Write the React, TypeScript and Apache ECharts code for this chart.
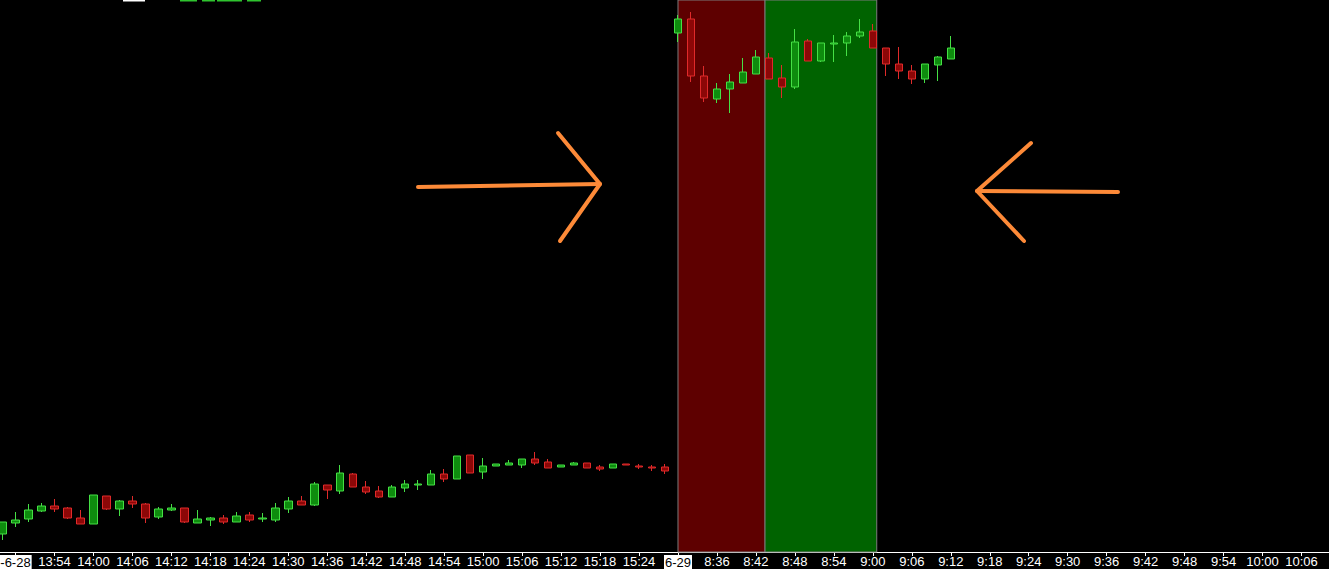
import React, { useEffect, useRef } from "react";
import * as echarts from "echarts";

// 2-minute bars, 6-28 afternoon session then 6-29 morning session
const day1Times = [
	"13:46", "13:48", "13:50", "13:52", "13:54", "13:56", "13:58",
	"14:00", "14:02", "14:04", "14:06", "14:08", "14:10", "14:12", "14:14", "14:16", "14:18",
	"14:20", "14:22", "14:24", "14:26", "14:28", "14:30", "14:32", "14:34", "14:36", "14:38",
	"14:40", "14:42", "14:44", "14:46", "14:48", "14:50", "14:52", "14:54", "14:56", "14:58",
	"15:00", "15:02", "15:04", "15:06", "15:08", "15:10", "15:12", "15:14", "15:16", "15:18",
	"15:20", "15:22", "15:24", "15:26", "15:28",
];
const day2Times = [
	"8:30", "8:32", "8:34", "8:36", "8:38", "8:40", "8:42", "8:44", "8:46", "8:48",
	"8:50", "8:52", "8:54", "8:56", "8:58",
	"9:00", "9:02", "9:04", "9:06", "9:08", "9:10", "9:12", "9:14", "9:16", "9:18",
	"9:20", "9:22", "9:24", "9:26", "9:28", "9:30", "9:32", "9:34", "9:36", "9:38",
	"9:40", "9:42", "9:44", "9:46", "9:48", "9:50", "9:52", "9:54", "9:56", "9:58",
	"10:00", "10:02", "10:04", "10:06", "10:08", "10:10",
];
const dateTags: Record<string, string> = { "13:48": "-6-28", "8:30": "6-29" };

// [open, close, low, high]
const day1Bars = [
	[3009, 3015, 3006, 3015], [3014.5, 3016, 3012.5, 3020], [3016.5, 3021, 3015, 3024],
	[3020.5, 3023, 3020, 3024.5], [3023, 3021.5, 3020, 3026.5], [3022, 3017, 3016.5, 3022.5],
	[3017, 3014, 3014, 3021], [3014, 3028.5, 3014, 3028.5], [3028, 3021.5, 3021, 3028],
	[3021.5, 3025.5, 3018, 3026], [3025.5, 3024, 3022, 3028], [3024, 3017, 3014.5, 3024.5],
	[3017.5, 3021.5, 3016.5, 3022.5], [3021, 3022, 3020.5, 3024], [3022, 3015, 3014.5, 3022],
	[3014.5, 3016.5, 3014.5, 3021], [3016, 3017, 3013, 3017.5], [3017, 3015, 3014, 3018.5],
	[3015, 3018, 3015, 3020], [3018.5, 3016, 3015, 3020], [3016.5, 3017, 3015, 3019.5],
	[3016, 3022, 3015, 3024.5], [3021.5, 3025.5, 3019.5, 3027.5], [3025.5, 3023.5, 3023.5, 3028],
	[3023.5, 3034, 3023, 3035], [3033.5, 3031, 3026.5, 3033.5], [3030.5, 3039.5, 3029, 3043.5],
	[3039, 3032.5, 3032.5, 3039.5], [3032.5, 3030, 3029, 3035.5], [3030.5, 3027.5, 3027, 3033],
	[3027.5, 3032.5, 3027.5, 3033.5], [3032, 3034, 3030, 3036], [3033.5, 3034, 3031, 3036],
	[3033.5, 3039, 3033.5, 3041], [3039, 3036.5, 3035, 3041.5], [3036.5, 3048, 3036.5, 3048],
	[3048.5, 3039.5, 3039.5, 3048.5], [3040, 3043, 3036.5, 3047], [3043, 3044, 3043, 3044],
	[3043.5, 3044.5, 3043.5, 3046], [3043.5, 3046.5, 3042, 3046.5], [3046.5, 3044.5, 3043.5, 3050],
	[3045, 3042, 3042, 3046.5], [3042.5, 3043.5, 3042.5, 3043.5], [3043.5, 3044.5, 3043.5, 3045],
	[3044.5, 3042, 3042, 3044.5], [3042.5, 3041.5, 3040.5, 3043.5], [3042, 3044, 3042, 3044],
	[3044, 3043.5, 3043.5, 3044], [3043, 3042.5, 3041.5, 3044], [3042.5, 3042, 3040.5, 3043.5],
	[3042.5, 3040.5, 3039, 3044],
];
const day2Bars = [
	[3259.5, 3266.5, 3255, 3268.5], [3266.5, 3238, 3235, 3270], [3238, 3227, 3225, 3243],
	[3226.5, 3231.5, 3224.5, 3234.5], [3231.5, 3235, 3219.5, 3239], [3234.5, 3240, 3234.5, 3247],
	[3239, 3247.5, 3239, 3251], [3247, 3236.5, 3236.5, 3249.5], [3237, 3232.5, 3227, 3243.5],
	[3232.5, 3255, 3231.5, 3261.5], [3255.5, 3245.5, 3245.5, 3256.5], [3245.5, 3254.5, 3245, 3254.5],
	[3254, 3254.5, 3245, 3258.5], [3254.5, 3258, 3248, 3260], [3258, 3260, 3257, 3266.5],
	[3260.5, 3252, 3252, 3264], [3252, 3244, 3238, 3252], [3244, 3240.5, 3236.5, 3252.5],
	[3240.5, 3236.5, 3234, 3243.5], [3236.5, 3244, 3234.5, 3244], [3243.5, 3247.5, 3235.5, 3248],
	[3246.5, 3252, 3246.5, 3258],
];

// shaded opening ranges, in bar positions on the time axis
const zoneStart = [52, 58.7];
const zoneEnd = [58.7, 67.3];
const zoneColors = ["#5e0000", "#006300"];

const PRICE_MIN = 3000;
const PRICE_MAX = 3276;
const FONT = "'Liberation Sans Narrow', 'Liberation Sans', sans-serif";
// the first bar is cut in half by the left edge, so the chart starts a little off-page
const SHIFT = 4;

export default function App() {
	const chartRef = useRef<HTMLDivElement>(null);

	useEffect(() => {
		if (!chartRef.current) return;
		const chart = echarts.init(chartRef.current, null, { renderer: "svg" });

		const categories = [...day1Times, ...day2Times];
		const bars: any[] = [...day1Bars, ...day2Bars];
		while (bars.length < categories.length) bars.push("-");
		const everyThird = (i: number) => i % 3 === 1;

		const orange = "#fd8a38";
		const arrow = (points: number[][]) => ({
			type: "polyline",
			shape: { points },
			style: { stroke: orange, lineWidth: 4, fill: "none", lineCap: "round", lineJoin: "round" },
			z: 100,
		});
		const topBit = (x: number, w: number, color: string) => ({
			type: "rect",
			shape: { x, y: 0, width: w, height: 1.5 },
			style: { fill: color },
		});

		chart.setOption({
			animation: false,
			backgroundColor: "#000",
			grid: { left: 0, right: 0, top: 0, bottom: 17 },
			xAxis: [
				{
					type: "category",
					data: categories,
					boundaryGap: true,
					axisLine: { lineStyle: { color: "#fff", width: 1 } },
					axisTick: { show: true, interval: everyThird, alignWithLabel: true, length: 4, lineStyle: { color: "#fff" } },
					axisLabel: {
						interval: everyThird,
						color: "#fff",
						fontSize: 13,
						fontFamily: FONT,
						margin: 3,
						formatter: (v: string) => (dateTags[v] ? `{d|${dateTags[v]}}` : v),
						rich: {
							d: { backgroundColor: "#fff", color: "#000", fontSize: 13, fontFamily: FONT, padding: [1, 1, 0, 1] },
						},
					},
					splitLine: { show: false },
				},
				{ type: "value", min: -0.5, max: categories.length - 0.5, show: false },
			],
			yAxis: { type: "value", min: PRICE_MIN, max: PRICE_MAX, show: false, splitLine: { show: false } },
			series: [
				{
					type: "custom",
					xAxisIndex: 1,
					z: 1,
					data: zoneStart.map((s, i) => [s, zoneEnd[i], PRICE_MIN]),
					encode: { x: [0, 1], y: 2 },
					renderItem: (params: any, api: any) => {
						const x0 = api.coord([api.value(0), PRICE_MIN])[0];
						const x1 = api.coord([api.value(1), PRICE_MIN])[0];
						const cs = params.coordSys;
						return {
							type: "rect",
							shape: { x: x0, y: cs.y, width: x1 - x0, height: cs.height },
							style: { fill: zoneColors[params.dataIndex], stroke: "#7b7b7b", lineWidth: 1 },
						};
					},
				},
				{
					type: "candlestick",
					xAxisIndex: 0,
					z: 5,
					data: bars,
					barWidth: 8,
					itemStyle: {
						color: "#0e8c0e",
						borderColor: "#45e045",
						color0: "#8c0707",
						borderColor0: "#e02a2a",
						borderWidth: 1,
					},
				},
			],
			graphic: [
				{
					type: "group",
					x: SHIFT,
					children: [
						arrow([[418, 187], [600, 184]]),
						arrow([[558, 133], [600, 184], [560, 241]]),
						arrow([[1118, 192], [977, 191]]),
						arrow([[1031, 143], [977, 191], [1024, 241]]),
						topBit(123, 22, "#ffffff"),
						topBit(180, 17, "#2fc42f"),
						topBit(202, 13, "#2fc42f"),
						topBit(217, 25, "#2fc42f"),
						topBit(247, 14, "#2fc42f"),
					],
				},
			],
		});

		return () => chart.dispose();
	}, []);

	return (
		<div style={{ position: "fixed", left: 0, top: 0, width: 1329, height: 569, background: "#000", overflow: "hidden" }}>
			<div
				ref={chartRef}
				style={{ position: "absolute", left: -SHIFT, top: 0, width: 1329 + SHIFT + 5, height: 569 }}
			/>
		</div>
	);
}
